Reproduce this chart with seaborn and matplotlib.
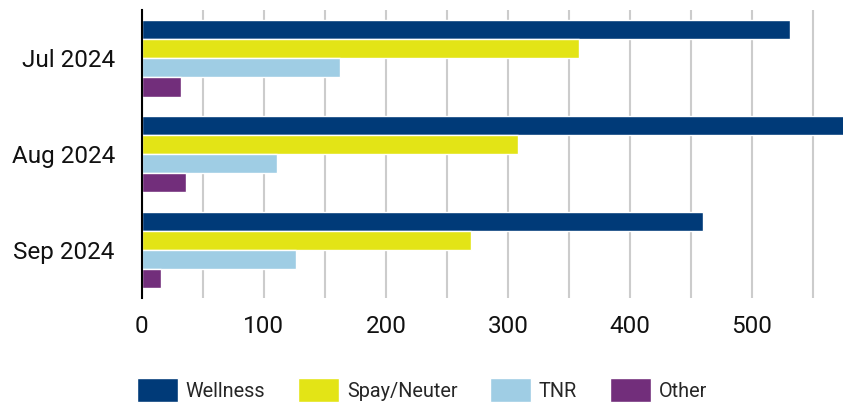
import pandas as pd
import matplotlib.pyplot as plt
import seaborn as sns
from matplotlib.ticker import MultipleLocator

# Values
months = ["Jul 2024", "Aug 2024", "Sep 2024"]
services = ["Wellness", "Spay/Neuter", "TNR", "Other"]
wellness = [531, 578, 460]
spay_neuter = [358, 308, 270]
tnr = [162, 111, 126]
other = [32, 36, 16]
colors = ["#003A78", "#E3E416", "#9FCDE4", "#722E7B"]

df = pd.DataFrame({
    "Month": months * 4,
    "Service": [s for s in services for _ in months],
    "Count": wellness + spay_neuter + tnr + other,
})

sns.set_style("white")
plt.rcParams["font.family"] = ["Roboto", "DejaVu Sans"]

fig = plt.figure(figsize=(8.65, 4.05), dpi=100)
ax = fig.add_axes([0.164, 0.264, 0.811, 0.711])

sns.barplot(
    data=df, x="Count", y="Month", hue="Service",
    order=months, hue_order=services, palette=colors,
    width=0.8, saturation=1, ax=ax,
)

ax.set_xlim(0, 575)
ax.xaxis.set_major_locator(MultipleLocator(100))
ax.xaxis.set_minor_locator(MultipleLocator(50))
ax.grid(axis="x", which="both", color="#cccccc", linewidth=1.5)
ax.set_axisbelow(True)
for side in ["top", "right", "bottom"]:
    ax.spines[side].set_visible(False)
ax.spines["left"].set_color("black")
ax.spines["left"].set_linewidth(1.5)
ax.tick_params(axis="both", which="both", length=0, labelsize=17.5, colors="#111111")
ax.tick_params(axis="x", pad=12)
ax.tick_params(axis="y", pad=19.5)
ax.set_xlabel("")
ax.set_ylabel("")

handles, labels = ax.get_legend_handles_labels()
ax.legend_.remove()
fig.legend(
    handles, labels, loc="center", bbox_to_anchor=(0.488, 0.037), ncol=4,
    frameon=False, fontsize=14.3, handlelength=2.05, handleheight=1.45,
    columnspacing=1.65, handletextpad=0.4,
)

plt.savefig("out.png", dpi=100)
